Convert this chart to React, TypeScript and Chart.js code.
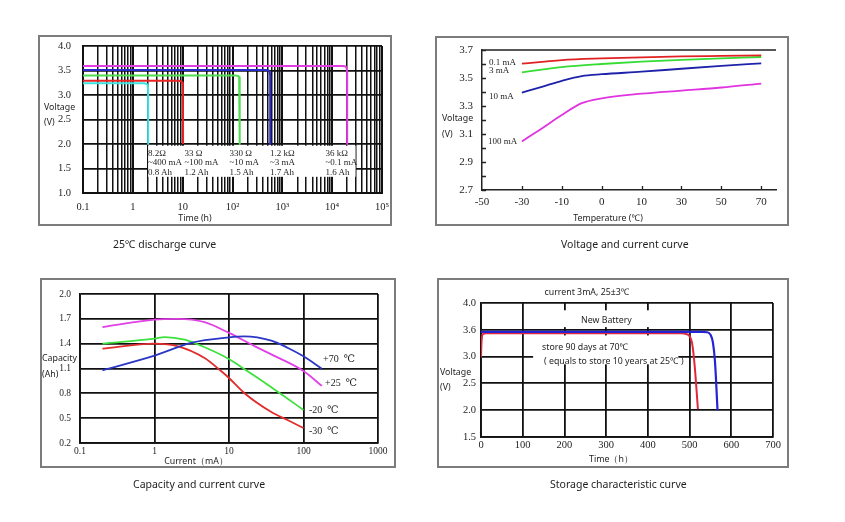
import React, { useEffect, useRef } from 'react';
import { Chart, registerables } from 'chart.js';

Chart.register(...registerables);

type Pt = [number, number];

const SERIF = '"Liberation Serif", "DejaVu Serif", serif';
const SANS = '"Noto Sans", "DejaVu Sans", sans-serif';
const INK = '#1e1e1e';
const GRID = '#111111';

// ---------- Panel 1 : 25℃ discharge curve ----------
const dischargeDecades = [0.1, 1, 10, 100, 1000, 10000, 100000];
const dischargeDecadeLabels = ['0.1', '1', '10', '10²', '10³', '10⁴', '10⁵'];
const dischargeVoltTicks = [1.0, 1.5, 2.0, 2.5, 3.0, 3.5, 4.0];
const discharge8R2: Pt[] = [[0.1, 3.24], [1.65, 3.24], [1.88, 3.23], [1.98, 3.2], [2.02, 3.13], [2.03, 2.0]];
const discharge33R: Pt[] = [[0.1, 3.29], [8.3, 3.29], [9.4, 3.28], [9.9, 3.25], [10.1, 3.18], [10.2, 2.0]];
const discharge330R: Pt[] = [[0.1, 3.4], [115, 3.4], [130, 3.39], [136, 3.36], [139, 3.29], [140, 2.0]];
const discharge1k2: Pt[] = [[0.1, 3.51], [470, 3.51], [535, 3.5], [560, 3.47], [570, 3.4], [572, 2.0]];
const discharge36k: Pt[] = [[0.1, 3.59], [16500, 3.59], [18700, 3.58], [19500, 3.55], [19900, 3.48], [20000, 2.0]];
const dischargeLoads = [
  ['8.2Ω', '~400 mA', '0.8 Ah'],
  ['33 Ω', '~100 mA', '1.2 Ah'],
  ['330 Ω', '~10 mA', '1.5 Ah'],
  ['1.2 kΩ', '~3 mA', '1.7 Ah'],
  ['36 kΩ', '~0.1 mA', '1.6 Ah'],
];

// ---------- Panel 2 : Voltage and current curve ----------
const tempTicks = [-50, -30, -10, 0, 10, 30, 50, 70];
const tempVoltTicks = [2.7, 2.9, 3.1, 3.3, 3.5, 3.7];
const tempVoltMinor = [2.7, 2.8, 2.9, 3.0, 3.1, 3.2, 3.3, 3.4, 3.5, 3.6, 3.7];
const temp01mA: Pt[] = [[-30, 3.603], [-20, 3.615], [-10, 3.628], [0, 3.64], [10, 3.648], [30, 3.654], [50, 3.658], [70, 3.662]];
const temp3mA: Pt[] = [[-30, 3.54], [-20, 3.56], [-10, 3.578], [0, 3.6], [10, 3.617], [30, 3.63], [50, 3.64], [70, 3.65]];
const temp10mA: Pt[] = [[-30, 3.396], [-20, 3.437], [-10, 3.48], [-5, 3.514], [0, 3.527], [10, 3.545], [30, 3.566], [50, 3.586], [70, 3.605]];
const temp100mA: Pt[] = [[-30, 3.047], [-20, 3.14], [-10, 3.235], [-5, 3.32], [0, 3.355], [10, 3.388], [30, 3.41], [50, 3.432], [70, 3.46]];

// ---------- Panel 3 : Capacity and current curve ----------
const currentDecades = [0.1, 1, 10, 100, 1000];
const currentLabels = ['0.1', '1', '10', '100', '1000'];
const capacityTicks = [0.2, 0.5, 0.8, 1.1, 1.4, 1.7, 2.0];
const capP70: Pt[] = [[0.2, 1.078], [1, 1.255], [3.1, 1.41], [10, 1.476], [16, 1.488], [37, 1.436], [62, 1.348], [100, 1.247], [176, 1.098]];
const capP25: Pt[] = [[0.2, 1.6], [1, 1.69], [2, 1.7], [4.7, 1.66], [10, 1.53], [22, 1.37], [37, 1.27], [100, 1.07], [176, 0.89]];
const capM20: Pt[] = [[0.2, 1.4], [1, 1.46], [1.37, 1.48], [2.55, 1.448], [3.85, 1.39], [10, 1.215], [16, 1.094], [33, 0.905], [55, 0.764], [100, 0.6]];
const capM30: Pt[] = [[0.2, 1.34], [1, 1.4], [2.07, 1.368], [4.7, 1.227], [7.9, 1.066], [10, 0.985], [16, 0.804], [37, 0.574], [62, 0.474], [100, 0.381]];

// ---------- Panel 4 : Storage characteristic curve ----------
const storageTimeTicks = [0, 100, 200, 300, 400, 500, 600, 700];
const storageVoltTicks = [1.5, 2.0, 2.5, 3.0, 3.5, 4.0];
const storageVoltLabels = ['1.5', '2.0', '2.5', '3.0', '3.6', '4.0'];
const storageNew: Pt[] = [[0, 3.46], [530, 3.46], [542, 3.455], [550, 3.41], [556, 3.26], [561, 2.9], [567, 2.0]];
const storageAged: Pt[] = [[0, 2.99], [0.8, 3.2], [2, 3.35], [5, 3.42], [12, 3.435], [480, 3.435], [492, 3.42], [500, 3.38], [506, 3.25], [512, 2.85], [520, 2.02]];

// ---------- helpers ----------
const tempToPos = (t: number) => {
  for (let i = 0; i < tempTicks.length - 1; i++) {
    const a = tempTicks[i], b = tempTicks[i + 1];
    if (t <= b || i === tempTicks.length - 2) return i + (t - a) / (b - a);
  }
  return 0;
};

function lineSet(p: Pt[], color: string, smooth: boolean, width = 2, mapX?: (v: number) => number) {
  return {
    data: p.map(([x, y]) => ({ x: mapX ? mapX(x) : x, y })),
    borderColor: color,
    backgroundColor: color,
    borderWidth: width,
    pointRadius: 0,
    pointHoverRadius: 0,
    fill: false,
    tension: smooth ? 0.4 : 0,
    cubicInterpolationMode: smooth ? 'monotone' : 'default',
  };
}

const fixWidth = (w: number) => (s: any) => {
  s.width = w; s.paddingTop = 0; s.paddingBottom = 0; s.paddingLeft = 0; s.paddingRight = 0;
};
const fixHeight = (h: number) => (s: any) => {
  s.height = h; s.paddingTop = 0; s.paddingBottom = 0; s.paddingLeft = 0; s.paddingRight = 0;
};

function baseOptions(top: number, right: number) {
  return {
    responsive: false,
    animation: false,
    devicePixelRatio: 1,
    events: [],
    layout: { padding: { top, right, left: 0, bottom: 0 } },
    plugins: { legend: { display: false }, tooltip: { enabled: false }, title: { display: false } },
    elements: { line: { borderJoinStyle: 'round', borderCapStyle: 'butt' } },
  };
}

type Box = { x0: number; x1: number; y0: number; y1: number };
function whiteBoxes(id: string, boxes: Box[]) {
  return {
    id,
    beforeDatasetsDraw(chart: any) {
      const { ctx, scales } = chart;
      ctx.save();
      ctx.fillStyle = '#ffffff';
      boxes.forEach((b) => {
        const xa = scales.x.getPixelForValue(b.x0), xb = scales.x.getPixelForValue(b.x1);
        const ya = scales.y.getPixelForValue(b.y0), yb = scales.y.getPixelForValue(b.y1);
        ctx.fillRect(Math.min(xa, xb), Math.min(ya, yb), Math.abs(xb - xa), Math.abs(yb - ya));
      });
      ctx.restore();
    },
  };
}

const tickFont = (size: number) => ({ family: SERIF, size });

// ---------- configs ----------
function dischargeConfig() {
  const gridValues: { value: number; major: boolean }[] = [];
  dischargeDecades.forEach((d, i) => {
    gridValues.push({ value: d, major: true });
    if (i < dischargeDecades.length - 1) for (let k = 2; k <= 9; k++) gridValues.push({ value: k * d, major: false });
  });
  return {
    type: 'line',
    data: {
      datasets: [
        lineSet(discharge8R2, '#3fe0e0', false),
        lineSet(discharge33R, '#e82424', false),
        lineSet(discharge330R, '#4ede4e', false),
        lineSet(discharge1k2, '#2a2ad0', false),
        lineSet(discharge36k, '#e03ee0', false),
      ],
    },
    options: {
      ...baseOptions(11, 10),
      scales: {
        x: {
          type: 'logarithmic', min: 0.1, max: 100000,
          afterBuildTicks: (s: any) => { s.ticks = gridValues.map((t) => ({ ...t })); },
          afterFit: fixHeight(33),
          ticks: {
            autoSkip: false, maxRotation: 0, padding: 8, color: INK, font: tickFont(10.5),
            callback: (_v: any, i: number, ticks: any[]) => {
              const j = dischargeDecades.indexOf(ticks[i].value);
              return j >= 0 ? dischargeDecadeLabels[j] : '';
            },
          },
          grid: { color: GRID, lineWidth: (c: any) => (c.tick && c.tick.major ? 2 : 1.5), drawTicks: false },
          border: { color: GRID, width: 2 },
        },
        y: {
          type: 'linear', min: 1, max: 4,
          afterBuildTicks: (s: any) => { s.ticks = dischargeVoltTicks.map((v) => ({ value: v })); },
          afterFit: fixWidth(45),
          ticks: { padding: 12, color: INK, font: tickFont(10.5), callback: (v: any) => Number(v).toFixed(1) },
          grid: { color: GRID, lineWidth: 1.8, drawTicks: false },
          border: { color: GRID, width: 2 },
        },
      },
    },
    plugins: [whiteBoxes('dischargeBox', [{ x0: 2.03, x1: 29500, y0: 1.965, y1: 1.33 }])],
  };
}

const tempAxisPlugin = {
  id: 'tempAxis',
  beforeDatasetsDraw(chart: any) {
    const { ctx, chartArea: a, scales } = chart;
    ctx.save();
    ctx.strokeStyle = '#222';
    ctx.lineWidth = 1.3;
    ctx.beginPath();
    ctx.moveTo(a.left, a.top);
    ctx.lineTo(a.right, a.top);
    tempVoltMinor.forEach((v) => {
      const py = Math.round(scales.y.getPixelForValue(v)) + 0.5;
      ctx.moveTo(a.left, py);
      ctx.lineTo(a.left + 4, py);
    });
    tempTicks.forEach((_t, i) => {
      if (i === 0) return;
      const px = Math.round(scales.x.getPixelForValue(i)) + 0.5;
      ctx.moveTo(px, a.bottom);
      ctx.lineTo(px, a.bottom - 4);
    });
    ctx.stroke();
    ctx.restore();
  },
};

function tempConfig() {
  return {
    type: 'line',
    data: {
      datasets: [
        lineSet(temp01mA, '#e02222', true, 1.8, tempToPos),
        lineSet(temp3mA, '#34dc34', true, 1.8, tempToPos),
        lineSet(temp10mA, '#1e22aa', true, 1.8, tempToPos),
        lineSet(temp100mA, '#e034e0', true, 1.8, tempToPos),
      ],
    },
    options: {
      ...baseOptions(14, 13),
      scales: {
        x: {
          type: 'linear', min: 0, max: 7.37,
          afterBuildTicks: (s: any) => { s.ticks = tempTicks.map((_t, i) => ({ value: i })); },
          afterFit: fixHeight(36),
          ticks: { autoSkip: false, maxRotation: 0, padding: 5.5, color: INK, font: tickFont(11), callback: (_v: any, i: number) => String(tempTicks[i]) },
          grid: { display: false, drawTicks: false },
          border: { color: '#222', width: 1.5 },
        },
        y: {
          type: 'linear', min: 2.7, max: 3.7,
          afterBuildTicks: (s: any) => { s.ticks = tempVoltTicks.map((v) => ({ value: v })); },
          afterFit: fixWidth(47),
          ticks: { padding: 9, color: INK, font: tickFont(11), callback: (v: any) => Number(v).toFixed(1) },
          grid: { display: false, drawTicks: false },
          border: { color: '#222', width: 1.5 },
        },
      },
    },
    plugins: [tempAxisPlugin],
  };
}

function capacityConfig() {
  return {
    type: 'line',
    data: {
      datasets: [
        lineSet(capP70, '#2a36c6', true, 1.8),
        lineSet(capP25, '#e040e6', true, 1.8),
        lineSet(capM20, '#3ee03e', true, 1.8),
        lineSet(capM30, '#e02c2c', true, 1.8),
      ],
    },
    options: {
      ...baseOptions(16, 18),
      scales: {
        x: {
          type: 'logarithmic', min: 0.1, max: 1000,
          afterBuildTicks: (s: any) => { s.ticks = currentDecades.map((v) => ({ value: v, major: true })); },
          afterFit: fixHeight(25),
          ticks: {
            autoSkip: false, maxRotation: 0, padding: 2.5, color: INK, font: tickFont(9.5),
            callback: (_v: any, i: number) => currentLabels[i],
          },
          grid: { color: GRID, lineWidth: 1.8, drawTicks: false },
          border: { color: GRID, width: 1.8 },
        },
        y: {
          type: 'linear', min: 0.2, max: 2.0,
          afterBuildTicks: (s: any) => { s.ticks = capacityTicks.map((v) => ({ value: v })); },
          afterFit: fixWidth(40),
          ticks: { padding: 9, color: INK, font: tickFont(9.5), callback: (v: any) => Number(v).toFixed(1) },
          grid: { color: GRID, lineWidth: 1.8, drawTicks: false },
          border: { color: GRID, width: 1.8 },
        },
      },
    },
  };
}

function storageConfig() {
  return {
    type: 'line',
    data: {
      datasets: [
        lineSet(storageNew, '#2424d4', true, 2.2),
        lineSet(storageAged, '#e0283c', true, 2),
      ],
    },
    options: {
      ...baseOptions(25, 16),
      scales: {
        x: {
          type: 'linear', min: 0, max: 700,
          afterBuildTicks: (s: any) => { s.ticks = storageTimeTicks.map((v) => ({ value: v })); },
          afterFit: fixHeight(31),
          ticks: { autoSkip: false, maxRotation: 0, padding: 1.5, color: INK, font: tickFont(10.5), callback: (v: any) => String(v) },
          grid: { color: GRID, lineWidth: 1.8, drawTicks: false },
          border: { color: GRID, width: 1.8 },
        },
        y: {
          type: 'linear', min: 1.5, max: 4.0,
          afterBuildTicks: (s: any) => { s.ticks = storageVoltTicks.map((v) => ({ value: v })); },
          afterFit: fixWidth(44),
          ticks: { padding: 5, color: INK, font: tickFont(10.5), callback: (_v: any, i: number) => storageVoltLabels[i] },
          grid: { color: GRID, lineWidth: 1.8, drawTicks: false },
          border: { color: GRID, width: 1.8 },
        },
      },
    },
    plugins: [
      whiteBoxes('storageBoxes', [
        { x0: 185, x1: 490, y0: 3.864, y1: 3.55 },
        { x0: 125, x1: 473, y0: 3.395, y1: 2.856 },
      ]),
    ],
  };
}

// ---------- components ----------
function ChartCanvas({ x, y, w, h, make }: { x: number; y: number; w: number; h: number; make: () => any }) {
  const ref = useRef<HTMLCanvasElement | null>(null);
  useEffect(() => {
    if (!ref.current) return;
    const chart = new Chart(ref.current, make());
    return () => chart.destroy();
  }, []);
  return (
    <canvas
      ref={ref}
      width={w}
      height={h}
      style={{ position: 'absolute', left: x, top: y, width: w, height: h, display: 'block' }}
    />
  );
}

function Frame({ x, y, w, h }: { x: number; y: number; w: number; h: number }) {
  return (
    <div
      style={{
        position: 'absolute', left: x, top: y, width: w, height: h,
        border: '2px solid #7c7c7c', boxSizing: 'border-box',
      }}
    />
  );
}

function Txt({ x, y, size, family = SANS, anchor = 'start', children }: {
  x: number; y: number; size: number; family?: string; anchor?: 'start' | 'middle'; children: React.ReactNode;
}) {
  return (
    <div
      style={{
        position: 'absolute', left: x, top: y,
        transform: `translate(${anchor === 'middle' ? '-50%' : '0'}, -50%)`,
        fontFamily: family, fontSize: size, lineHeight: 1, whiteSpace: 'pre', color: INK,
      }}
    >
      {children}
    </div>
  );
}

const loadCols = [148, 184.5, 229.5, 270, 325.5];
const loadRows = [152.5, 162, 171.5];

export default function App() {
  return (
    <div style={{ position: 'absolute', left: 0, top: 0, width: 845, height: 522, background: '#fff', overflow: 'hidden' }}>
      {/* Panel 1 */}
      <Frame x={38} y={35} w={354} h={191} />
      <ChartCanvas x={38} y={35} w={354} h={191} make={dischargeConfig} />
      <Txt x={44} y={107} size={8.8}>Voltage</Txt>
      <Txt x={44} y={122} size={8.8}>(V)</Txt>
      <Txt x={195} y={218} size={8.8} anchor="middle">Time (h)</Txt>
      {dischargeLoads.map((col, i) =>
        col.map((t, j) => (
          <Txt key={`l${i}-${j}`} x={loadCols[i]} y={loadRows[j]} size={9} family={SERIF}>{t}</Txt>
        )),
      )}
      <Txt x={113} y={244} size={10.5}>25℃ discharge curve</Txt>

      {/* Panel 2 */}
      <Frame x={435} y={36} w={354} h={190} />
      <ChartCanvas x={435} y={36} w={354} h={190} make={tempConfig} />
      <Txt x={442} y={118} size={8.8}>Voltage</Txt>
      <Txt x={442} y={134} size={8.8}>(V)</Txt>
      <Txt x={608} y={218} size={8.8} anchor="middle">Temperature (℃)</Txt>
      <Txt x={489} y={61.5} size={9} family={SERIF}>0.1 mA</Txt>
      <Txt x={489} y={70} size={9} family={SERIF}>3 mA</Txt>
      <Txt x={489} y={96} size={9} family={SERIF}>10 mA</Txt>
      <Txt x={488} y={140.5} size={9} family={SERIF}>100 mA</Txt>
      <Txt x={561} y={244} size={10.5}>Voltage and current curve</Txt>

      {/* Panel 3 */}
      <Frame x={40} y={278} w={356} h={190} />
      <ChartCanvas x={40} y={278} w={356} h={190} make={capacityConfig} />
      <Txt x={42} y={358} size={8.8}>Capacity</Txt>
      <Txt x={42} y={374} size={8.8}>(Ah)</Txt>
      <Txt x={196} y={461} size={8.8} anchor="middle">Current（mA）</Txt>
      <Txt x={323} y={359} size={10} family={SERIF}>+70  ℃</Txt>
      <Txt x={325} y={383} size={10} family={SERIF}>+25  ℃</Txt>
      <Txt x={309} y={410} size={10} family={SERIF}>-20  ℃</Txt>
      <Txt x={309} y={431} size={10} family={SERIF}>-30  ℃</Txt>
      <Txt x={133} y={484} size={10.5}>Capacity and current curve</Txt>

      {/* Panel 4 */}
      <Frame x={437} y={278} w={352} h={190} />
      <ChartCanvas x={437} y={278} w={352} h={190} make={storageConfig} />
      <Txt x={440} y={372} size={8.8}>Voltage</Txt>
      <Txt x={440} y={387} size={8.8}>(V)</Txt>
      <Txt x={611} y={459} size={8.8} anchor="middle">Time（h）</Txt>
      <Txt x={587} y={292} size={8.8} anchor="middle">current 3mA, 25±3℃</Txt>
      <Txt x={581} y={319.5} size={8.8}>New Battery</Txt>
      <Txt x={542} y={347} size={8.8}>store 90 days at 70℃</Txt>
      <Txt x={544} y={361} size={8.8}>( equals to store 10 years at 25℃ )</Txt>
      <Txt x={550} y={484} size={10.5}>Storage characteristic curve</Txt>
    </div>
  );
}
